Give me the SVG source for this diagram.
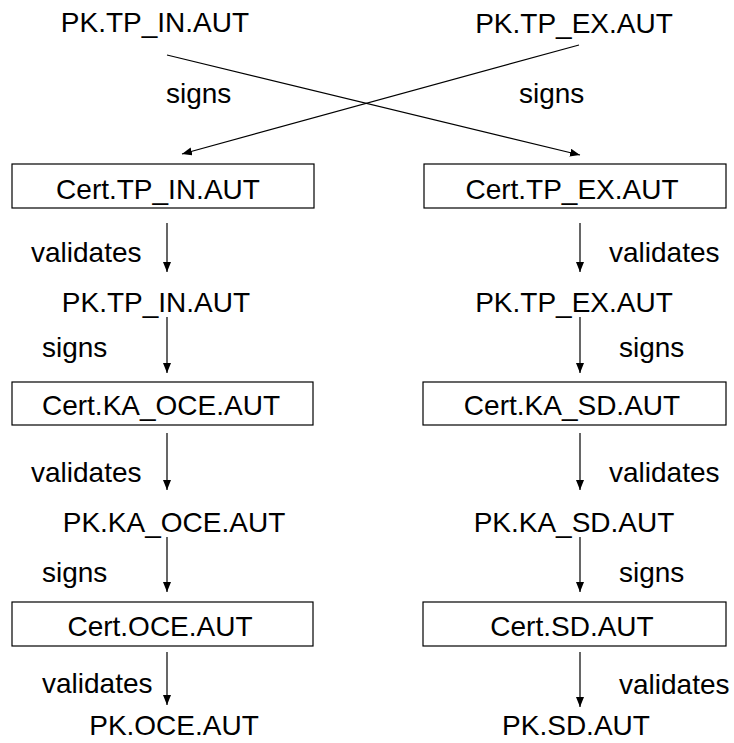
<svg xmlns="http://www.w3.org/2000/svg" width="734" height="743" viewBox="0 0 734 743">
  <style>
    text { font-family: "Liberation Sans", Arial, sans-serif; font-size: 28px; fill: #000; }
    .c { text-anchor: middle; }
    .box { fill: #fff; stroke: #000; stroke-width: 1.2; }
    .conn { stroke: #000; stroke-width: 1.2; fill: none; marker-end: url(#arr); }
  </style>
  <defs>
    <marker id="arr" markerUnits="userSpaceOnUse" markerWidth="12" markerHeight="10" refX="10" refY="4" orient="auto">
      <path d="M0,0 L10,4 L0,8 z" fill="#000"/>
    </marker>
  </defs>
  <rect width="734" height="743" fill="#fff"/>

  <g id="connectors">
    <line class="conn" x1="167" y1="55" x2="580" y2="155"/>
    <line class="conn" x1="579" y1="45" x2="182" y2="154"/>
    <line class="conn" x1="167" y1="223" x2="167" y2="272"/>
    <line class="conn" x1="167" y1="317" x2="167" y2="373"/>
    <line class="conn" x1="167" y1="433" x2="167" y2="490"/>
    <line class="conn" x1="167" y1="537" x2="167" y2="592"/>
    <line class="conn" x1="167" y1="652" x2="167" y2="705"/>
    <line class="conn" x1="580" y1="223" x2="580" y2="272"/>
    <line class="conn" x1="580" y1="317" x2="580" y2="373"/>
    <line class="conn" x1="580" y1="433" x2="580" y2="490"/>
    <line class="conn" x1="580" y1="537" x2="580" y2="592"/>
    <line class="conn" x1="580" y1="652" x2="580" y2="707"/>
  </g>

  <g id="labels">
    <text x="166" y="103">signs</text>
    <text x="519" y="103">signs</text>
    <text x="31" y="262">validates</text>
    <text x="609" y="262">validates</text>
    <text x="42" y="357">signs</text>
    <text x="619" y="357">signs</text>
    <text x="31" y="482">validates</text>
    <text x="609" y="482">validates</text>
    <text x="42" y="582">signs</text>
    <text x="619" y="582">signs</text>
    <text x="42" y="693">validates</text>
    <text x="619" y="694">validates</text>
  </g>

  <g id="pk-tp-in-top"><text class="c" x="155" y="32">PK.TP_IN.AUT</text></g>
  <g id="pk-tp-ex-top"><text class="c" x="574" y="33">PK.TP_EX.AUT</text></g>

  <g id="cert-tp-in"><rect class="box" x="12" y="164" width="302" height="44"/><text class="c" x="158" y="199">Cert.TP_IN.AUT</text></g>
  <g id="cert-tp-ex"><rect class="box" x="424" y="164" width="302" height="44"/><text class="c" x="572" y="199">Cert.TP_EX.AUT</text></g>

  <g id="pk-tp-in"><text class="c" x="156" y="312">PK.TP_IN.AUT</text></g>
  <g id="pk-tp-ex"><text class="c" x="574" y="312">PK.TP_EX.AUT</text></g>

  <g id="cert-ka-oce"><rect class="box" x="12" y="382" width="301" height="43"/><text class="c" x="161" y="415">Cert.KA_OCE.AUT</text></g>
  <g id="cert-ka-sd"><rect class="box" x="423" y="382" width="303" height="43"/><text class="c" x="572" y="415">Cert.KA_SD.AUT</text></g>

  <g id="pk-ka-oce"><text class="c" x="174" y="532">PK.KA_OCE.AUT</text></g>
  <g id="pk-ka-sd"><text class="c" x="574" y="532">PK.KA_SD.AUT</text></g>

  <g id="cert-oce"><rect class="box" x="12" y="602" width="301" height="44"/><text class="c" x="160" y="636">Cert.OCE.AUT</text></g>
  <g id="cert-sd"><rect class="box" x="423" y="602" width="303" height="44"/><text class="c" x="572" y="636">Cert.SD.AUT</text></g>

  <g id="pk-oce"><text class="c" x="174" y="735">PK.OCE.AUT</text></g>
  <g id="pk-sd"><text class="c" x="576" y="735">PK.SD.AUT</text></g>
</svg>
